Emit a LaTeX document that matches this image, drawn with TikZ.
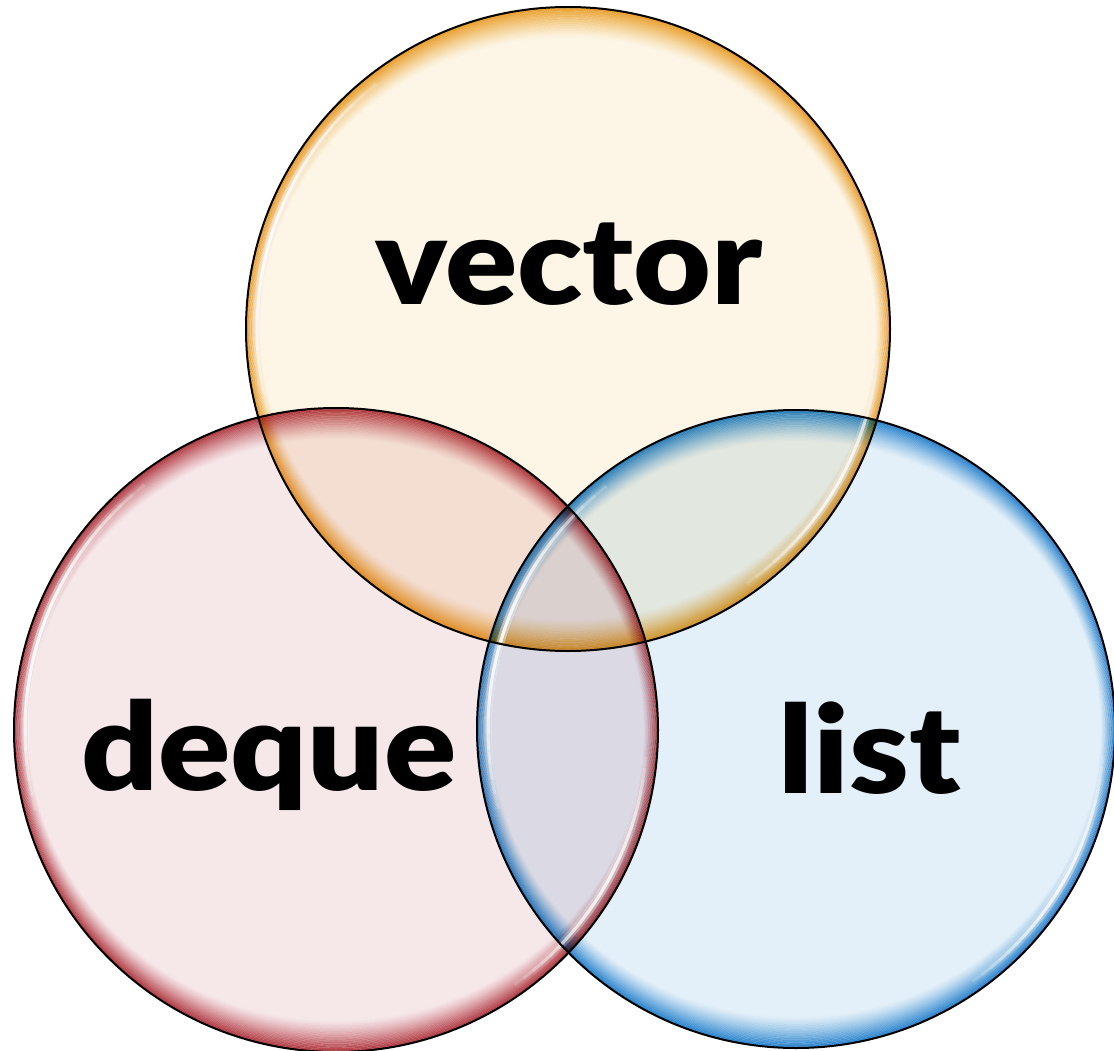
\documentclass[tikz,border=0pt]{standalone}
\usepackage{fontspec}
\IfFontExistsTF{Lato Black}{\newfontfamily\lbl{Lato Black}}{\newfontfamily\lbl{Lato}[UprightFont={* Bold}]}
\definecolor{vfill}{RGB}{253,246,230}
\definecolor{dfill}{RGB}{246,231,233}
\definecolor{lfill}{RGB}{228,240,249}
\definecolor{vrim}{RGB}{236,165,35}
\definecolor{drim}{RGB}{185,55,65}
\definecolor{lrim}{RGB}{35,140,212}
\newcommand\glossyrim[3]{%
  \foreach \i in {0,...,21}{%
    \pgfmathsetmacro\rxa{#2-\i*0.65}\pgfmathsetmacro\rya{#2-\i*1.4}%
    \pgfmathsetmacro\rxb{#2-(\i+1)*0.65}\pgfmathsetmacro\ryb{#2-(\i+1)*1.4}%
    \pgfmathsetmacro\op{0.95*(1-\i/22)^1.3}%
    \fill[#3, fill opacity=\op, blend mode=multiply, even odd rule]
      (#1) ellipse [x radius=\rxa, y radius=\rya]
      (#1) ellipse [x radius=\rxb, y radius=\ryb];
  }}
\newcommand\glossyshine[5]{% center, radius, start, end (tikz angles), layer opacity
  \foreach \k in {1,...,12}{%
    \pgfmathsetmacro\cc{(#3+#4)/2}\pgfmathsetmacro\hh{(#4-#3)/2*\k/12}%
    \pgfmathsetmacro\sa{\cc-\hh}\pgfmathsetmacro\ea{\cc+\hh}%
    \draw[white, line width=8, draw opacity=#5*0.3] ($(#1)+(\sa:#2)$) arc[start angle=\sa, end angle=\ea, radius=#2];
    \draw[white, line width=3, draw opacity=#5] ($(#1)+(\sa:#2)$) arc[start angle=\sa, end angle=\ea, radius=#2];
  }}
\usetikzlibrary{calc}
\tikzset{
  label text/.style={font=\lbl\fontsize{122}{122}\selectfont, text=black, inner sep=0pt, anchor=base, xscale=1.1},
  rimline/.style={draw=black, line width=2}
}
\begin{document}
\begin{tikzpicture}[x=1pt, y=-1pt]
\useasboundingbox (0,0) rectangle (1114,1051);
\fill[white] (0,0) rectangle (1114,1051);
\coordinate (V) at (568,329);
\coordinate (D) at (336,730);
\coordinate (L) at (796,729);
% fills
\fill[vfill, blend mode=multiply] (V) circle (322);
\fill[dfill, blend mode=multiply] (D) circle (322);
\fill[lfill, blend mode=multiply] (L) circle (319);
% rims
\glossyrim{V}{322}{vrim}
\glossyrim{D}{322}{drim}
\glossyrim{L}{319}{lrim}
% shines
\glossyshine{V}{311}{-195}{-128}{0.17}
\glossyshine{V}{311}{5}{55}{0.15}
\glossyshine{D}{311}{-195}{-128}{0.17}
\glossyshine{D}{311}{5}{55}{0.15}
\glossyshine{L}{308}{-195}{-128}{0.17}
\glossyshine{L}{308}{5}{55}{0.15}
% outlines
\draw[rimline] (V) circle (322);
\draw[rimline] (D) circle (322);
\draw[rimline] (L) circle (319);
% labels
\node[label text] (tv) at (569,304) {vector};
\node[label text] (td) at (269,790) {deque};
\node[label text] (tl) at (870,793) {list};
\end{tikzpicture}
\end{document}
